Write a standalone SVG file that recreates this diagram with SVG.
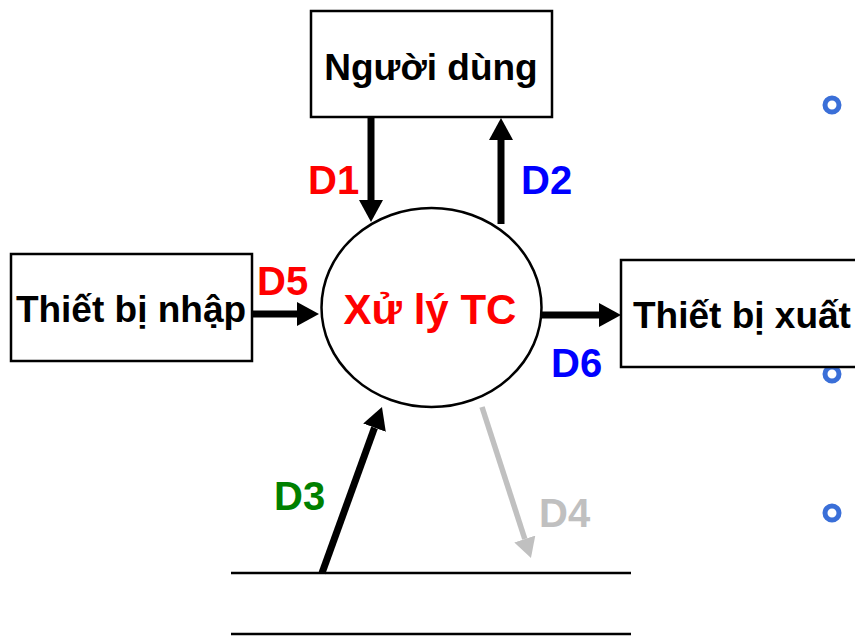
<svg xmlns="http://www.w3.org/2000/svg" width="855" height="636" viewBox="0 0 855 636">
<style>
.box{fill:#fff;stroke:#000;stroke-width:2.5}
.lbl{font-family:"Liberation Sans",Arial,sans-serif;font-weight:bold;font-size:37px;fill:#000}
.dl{font-family:"Liberation Sans",Arial,sans-serif;font-weight:bold;font-size:40px}
.flow{stroke:#000;stroke-width:7;fill:none}
.flowg{stroke:#c0c0c0;stroke-width:5.5;fill:none}
.bullet{fill:none;stroke:#3a6fd8;stroke-width:5}
.store{stroke:#000;stroke-width:2.5}
</style>
<defs>
<marker id="ah" markerUnits="userSpaceOnUse" markerWidth="22" markerHeight="24" refX="0" refY="12" orient="auto" viewBox="0 0 22 24">
<path d="M0,0 L22,12 L0,24 z" fill="#000"/>
</marker>
<marker id="ahg" markerUnits="userSpaceOnUse" markerWidth="20" markerHeight="22" refX="0" refY="11" orient="auto" viewBox="0 0 20 22">
<path d="M0,0 L20,11 L0,22 z" fill="#c0c0c0"/>
</marker>
</defs>
<g id="bullets">
<circle class="bullet" cx="832" cy="105" r="7"/>
<circle class="bullet" cx="832" cy="374" r="7"/>
<circle class="bullet" cx="832" cy="513" r="7"/>
</g>
<g id="nguoi-dung">
<rect class="box" x="311" y="11" width="241" height="106"/>
<text class="lbl" x="431" y="80" text-anchor="middle">Người dùng</text>
</g>
<g id="thiet-bi-nhap">
<rect class="box" x="11" y="254" width="241" height="107"/>
<text class="lbl" x="131" y="322" text-anchor="middle">Thiết bị nhập</text>
</g>
<g id="thiet-bi-xuat">
<rect class="box" x="621" y="260" width="250" height="107"/>
<text class="lbl" x="633" y="328">Thiết bị xuất</text>
</g>
<g id="xu-ly-tc">
<ellipse cx="431.5" cy="307.5" rx="110" ry="99.5" fill="#fff" stroke="#000" stroke-width="2.5"/>
<text x="430" y="324" text-anchor="middle" font-family="Liberation Sans,Arial,sans-serif" font-weight="bold" font-size="42" fill="#ff0000">Xử lý TC</text>
</g>
<g id="kho-du-lieu">
<line class="store" x1="231" y1="573" x2="631" y2="573"/>
<line class="store" x1="231" y1="634" x2="631" y2="634"/>
</g>
<g id="connectors">
<line class="flow" x1="371" y1="117" x2="371" y2="200" marker-end="url(#ah)"/>
<line class="flow" x1="501" y1="224" x2="501" y2="140" marker-end="url(#ah)"/>
<line class="flow" x1="252" y1="314" x2="297" y2="314" marker-end="url(#ah)"/>
<line class="flow" x1="542" y1="315" x2="599" y2="315" marker-end="url(#ah)"/>
<line class="flow" x1="322" y1="573" x2="374.5" y2="427.7" marker-end="url(#ah)"/>
<line class="flowg" x1="482" y1="407" x2="524.8" y2="539" marker-end="url(#ahg)"/>
<text class="dl" x="308" y="194" fill="#ff0000">D1</text>
<text class="dl" x="521" y="194" fill="#0000ff">D2</text>
<text class="dl" x="274" y="510" fill="#008000">D3</text>
<text class="dl" x="539" y="527" fill="#c0c0c0">D4</text>
<text class="dl" x="257" y="295" fill="#ff0000">D5</text>
<text class="dl" x="551" y="377" fill="#0000ff">D6</text>
</g>
</svg>
